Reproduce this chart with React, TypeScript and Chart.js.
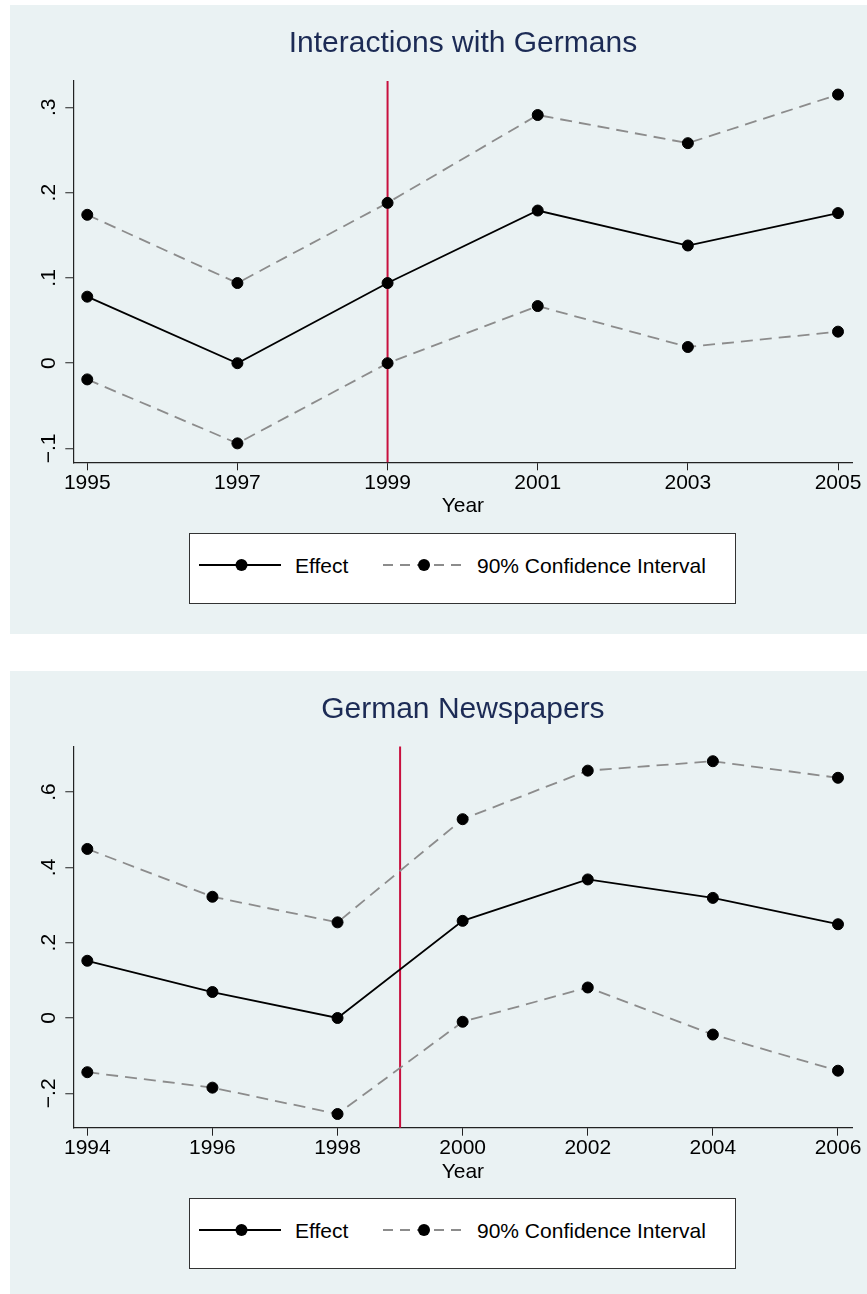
import React, { useEffect, useRef } from "react";
import { Chart, registerables } from "chart.js";

Chart.register(...registerables);

const FONT = "'Liberation Sans', Arial, Helvetica, sans-serif";

// ---------- Data: panel 1 (Interactions with Germans) ----------
const title1 = "Interactions with Germans";
const years1 = [1995, 1997, 1999, 2001, 2003, 2005];
const effect1 = [0.078, 0.0, 0.094, 0.179, 0.138, 0.176];
const upper1 = [0.174, 0.094, 0.188, 0.291, 0.258, 0.315];
const lower1 = [-0.019, -0.094, 0.0, 0.067, 0.019, 0.037];
const yTicks1 = [-0.1, 0, 0.1, 0.2, 0.3];
const yTickLabels1 = ["\u2212.1", "0", ".1", ".2", ".3"];

// ---------- Data: panel 2 (German Newspapers) ----------
const title2 = "German Newspapers";
const years2 = [1994, 1996, 1998, 2000, 2002, 2004, 2006];
const effect2 = [0.152, 0.069, 0.0, 0.258, 0.368, 0.319, 0.249];
const upper2 = [0.449, 0.322, 0.254, 0.528, 0.657, 0.682, 0.638];
const lower2 = [-0.144, -0.185, -0.255, -0.01, 0.081, -0.044, -0.14];
const yTicks2 = [-0.2, 0, 0.2, 0.4, 0.6];
const yTickLabels2 = ["\u2212.2", "0", ".2", ".4", ".6"];

const xTitle = "Year";
const legendLabels = ["Effect", "90% Confidence Interval"];
const treatmentYear = 1999;

type PanelProps = {
  top: number;
  height: number;
  title: string;
  years: number[];
  effect: number[];
  upper: number[];
  lower: number[];
  yTicks: number[];
  yTickLabels: string[];
  xMin: number;
  xMax: number;
  yMin: number;
  yMax: number;
  chartTop: number;
  chartBottom: number;
  titleBaseline: number;
  legendTop: number;
};

const PANEL_W = 857;
const X_AXIS_H = 56.8;
const Y_AXIS_W = 50;

function Panel(p: PanelProps) {
  const ref = useRef<HTMLCanvasElement | null>(null);

  useEffect(() => {
    if (!ref.current) return;
    const toPts = (vals: number[]) => p.years.map((x, i) => ({ x, y: vals[i] }));

    const decor = {
      id: "decor",
      beforeDatasetsDraw(chart: any) {
        const { ctx, chartArea } = chart;
        const x = chart.scales.x.getPixelForValue(treatmentYear);
        ctx.save();
        ctx.strokeStyle = "#c8103e";
        ctx.lineWidth = 2;
        ctx.beginPath();
        ctx.moveTo(x, chartArea.top);
        ctx.lineTo(x, chartArea.bottom);
        ctx.stroke();
        ctx.restore();
      },
      afterDraw(chart: any) {
        const { ctx, chartArea } = chart;
        ctx.save();
        ctx.font = `30px ${FONT}`;
        ctx.fillStyle = "#1c2b55";
        ctx.textAlign = "center";
        ctx.textBaseline = "alphabetic";
        ctx.fillText(p.title, (chartArea.left + chartArea.right) / 2, p.titleBaseline);
        ctx.font = `21px ${FONT}`;
        ctx.fillStyle = "#000";
        const ys = chart.scales.y;
        p.yTicks.forEach((v, i) => {
          const y = ys.getPixelForValue(v);
          ctx.save();
          ctx.translate(44.5, y);
          ctx.rotate(-Math.PI / 2);
          ctx.textAlign = "center";
          ctx.textBaseline = "alphabetic";
          ctx.fillText(p.yTickLabels[i], 0, 0);
          ctx.restore();
        });
        ctx.restore();
      },
    };

    const pointStyle = {
      pointRadius: 5.5,
      pointBorderWidth: 1,
      pointBackgroundColor: "#000",
      pointBorderColor: "#000",
      pointHoverRadius: 5.5,
    };

    const chart = new Chart(ref.current, {
      type: "line",
      data: {
        datasets: [
          {
            label: legendLabels[0],
            data: toPts(p.effect),
            borderColor: "#000",
            borderWidth: 1.8,
            tension: 0,
            ...pointStyle,
          },
          {
            label: legendLabels[1],
            data: toPts(p.upper),
            borderColor: "#8c8c8c",
            borderWidth: 1.8,
            borderDash: [12, 7],
            tension: 0,
            ...pointStyle,
          },
          {
            label: legendLabels[1],
            data: toPts(p.lower),
            borderColor: "#8c8c8c",
            borderWidth: 1.8,
            borderDash: [12, 7],
            tension: 0,
            ...pointStyle,
          },
        ],
      },
      options: {
        animation: false,
        responsive: false,
        devicePixelRatio: 1,
        clip: false as any,
        layout: {
          padding: {
            left: 63.3 - Y_AXIS_W,
            right: PANEL_W - 842.5,
            top: p.chartTop,
            bottom: p.height - p.chartBottom - X_AXIS_H,
          },
        },
        plugins: {
          legend: { display: false },
          title: { display: false },
          tooltip: { enabled: false },
        },
        scales: {
          x: {
            type: "linear",
            min: p.xMin,
            max: p.xMax,
            afterBuildTicks: (s: any) => {
              s.ticks = p.years.map((v) => ({ value: v }));
            },
            afterFit: (s: any) => {
              s.height = X_AXIS_H;
              s.paddingLeft = 0;
              s.paddingRight = 0;
            },
            ticks: {
              autoSkip: false,
              maxRotation: 0,
              minRotation: 0,
              padding: 0,
              color: "#000",
              font: { family: FONT, size: 21 },
              callback: (v: any) => String(v),
            },
            grid: {
              drawOnChartArea: false,
              drawTicks: true,
              tickLength: 8,
              tickColor: "#222",
              tickWidth: 1,
            },
            border: { display: true, color: "#222", width: 1.2 },
            title: {
              display: true,
              text: xTitle,
              color: "#000",
              font: { family: FONT, size: 21 },
              padding: { top: 0, bottom: 0 },
            },
          },
          y: {
            type: "linear",
            min: p.yMin,
            max: p.yMax,
            afterBuildTicks: (s: any) => {
              s.ticks = p.yTicks.map((v) => ({ value: v }));
            },
            afterFit: (s: any) => {
              s.width = Y_AXIS_W;
            },
            ticks: { display: false },
            grid: {
              color: "#eaf2f3",
              lineWidth: 1.5,
              drawTicks: true,
              tickLength: 8,
              tickColor: "#222",
              tickWidth: 1,
            },
            border: { display: true, color: "#222", width: 1.2 },
          },
        },
      },
      plugins: [decor as any],
    });
    return () => chart.destroy();
  }, []);

  const sampleY = 31;
  return (
    <div
      style={{
        position: "absolute",
        left: 10,
        top: p.top,
        width: PANEL_W,
        height: p.height,
        background: "#eaf2f3",
      }}
    >
      <canvas
        ref={ref}
        width={PANEL_W}
        height={p.height}
        style={{ position: "absolute", left: 0, top: 0, display: "block" }}
      />
      <div
        style={{
          position: "absolute",
          left: 179,
          top: p.legendTop,
          width: 545,
          height: 69,
          background: "#fff",
          border: "1px solid #333",
          fontFamily: FONT,
          fontSize: 21,
          color: "#000",
        }}
      >
        <svg
          width={545}
          height={69}
          style={{ position: "absolute", left: 0, top: 0 }}
        >
          <line x1={9} y1={sampleY} x2={91} y2={sampleY} stroke="#000" strokeWidth={1.8} />
          <circle cx={51.5} cy={sampleY} r={6} fill="#000" />
          <line
            x1={193}
            y1={sampleY}
            x2={275}
            y2={sampleY}
            stroke="#8c8c8c"
            strokeWidth={1.8}
            strokeDasharray="10 7"
          />
          <circle cx={234} cy={sampleY} r={6} fill="#000" />
        </svg>
        <span
          style={{ position: "absolute", left: 105, top: sampleY - 11.5, lineHeight: "24px", whiteSpace: "nowrap" }}
        >
          {legendLabels[0]}
        </span>
        <span
          style={{ position: "absolute", left: 287, top: sampleY - 11.5, lineHeight: "24px", whiteSpace: "nowrap" }}
        >
          {legendLabels[1]}
        </span>
      </div>
    </div>
  );
}

export default function App() {
  return (
    <div style={{ position: "absolute", left: 0, top: 0, width: 867, height: 1294, background: "#fff" }}>
      <Panel
        top={5}
        height={629}
        title={title1}
        years={years1}
        effect={effect1}
        upper={upper1}
        lower={lower1}
        yTicks={yTicks1}
        yTickLabels={yTickLabels1}
        xMin={1994.814}
        xMax={2005.193}
        yMin={-0.1162}
        yMax={0.3309}
        chartTop={76}
        chartBottom={457.3}
        titleBaseline={47.3}
        legendTop={528}
      />
      <Panel
        top={671}
        height={623}
        title={title2}
        years={years2}
        effect={effect2}
        upper={upper2}
        lower={lower2}
        yTicks={yTicks2}
        yTickLabels={yTickLabels2}
        xMin={1993.776}
        xMax={2006.232}
        yMin={-0.2914}
        yMax={0.7211}
        chartTop={75.5}
        chartBottom={456.7}
        titleBaseline={46.8}
        legendTop={527}
      />
    </div>
  );
}
